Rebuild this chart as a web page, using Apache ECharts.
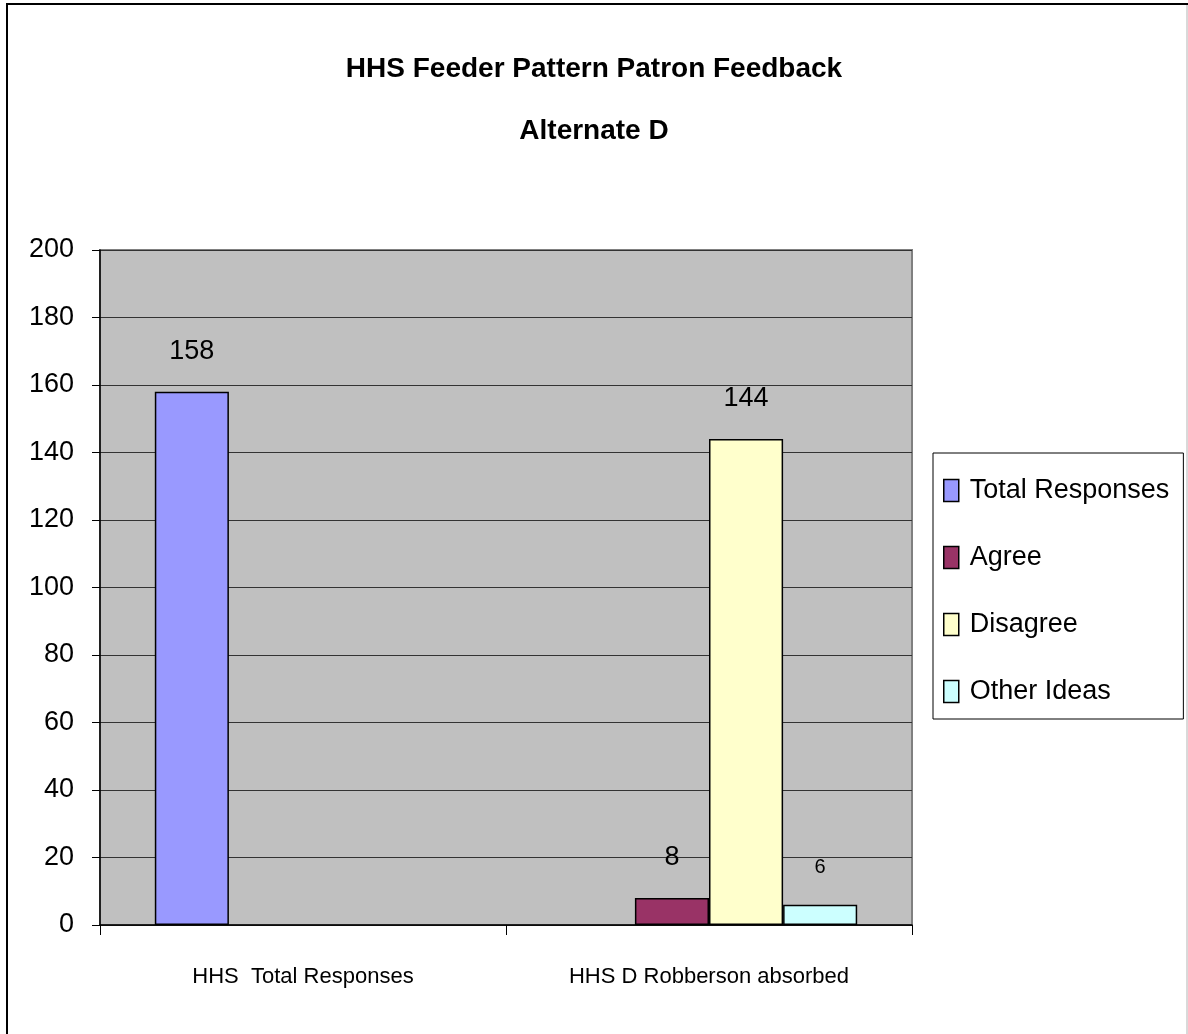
<!DOCTYPE html>
<html>
<head>
<meta charset="utf-8">
<script src="https://cdn.jsdelivr.net/npm/echarts@6/dist/echarts.min.js"></script>
<style>
  html, body { margin: 0; padding: 0; background: #fff; }
  #chart { width: 1188px; height: 1034px; }
</style>
</head>
<body>
<div id="chart"></div>
<script>
  var categories = ['HHS  Total Responses', 'HHS D Robberson absorbed'];
  var seriesNames = ['Total Responses', 'Agree', 'Disagree', 'Other Ideas'];
  var totalResponses = [158, null];
  var agree = [null, 8];
  var disagree = [null, 144];
  var otherIdeas = [null, 6];
  var yTicks = [0, 20, 40, 60, 80, 100, 120, 140, 160, 180, 200];

  var colors = ['#9999ff', '#993366', '#ffffcc', '#ccffff'];
  var font = '"Liberation Sans", Arial, sans-serif';

  var chartDom = document.getElementById('chart');
  var myChart = echarts.init(chartDom, null, {renderer: 'canvas'});

  function barSeries(name, data, color, labelSize) {
    return {
      name: name,
      type: 'bar',
      data: data,
      barGap: '0%',
      barCategoryGap: '27%',
      itemStyle: {
        color: color,
        borderColor: '#000',
        borderWidth: 1.5
      },
      label: {
        show: true,
        position: 'top',
        distance: 27,
        color: '#000',
        fontFamily: font,
        fontSize: labelSize
      }
    };
  }

  var option = {
    backgroundColor: '#fff',
    animation: false,
    title: {
      text: 'HHS Feeder Pattern Patron Feedback\nAlternate D',
      left: 'center',
      top: 33,
      textStyle: {
        fontFamily: font,
        fontWeight: 'bold',
        fontSize: 28,
        lineHeight: 62,
        color: '#000'
      }
    },
    legend: {
      orient: 'vertical',
      left: 933,
      top: 453,
      padding: [24, 14, 14, 10],
      itemWidth: 15,
      itemHeight: 22,
      itemGap: 40,
      borderColor: '#000',
      borderWidth: 1,
      data: seriesNames,
      icon: 'rect',
      itemStyle: {borderColor: '#000', borderWidth: 1.5},
      textStyle: {
        fontFamily: font,
        fontSize: 27,
        color: '#000',
        padding: [0, 0, 0, 6]
      }
    },
    grid: {
      left: 100,
      right: 276,
      top: 250,
      bottom: 109,
      show: true,
      backgroundColor: '#c0c0c0',
      borderColor: '#808080',
      borderWidth: 2
    },
    xAxis: {
      type: 'category',
      data: categories,
      axisLine: {lineStyle: {color: '#000', width: 1.5}},
      axisTick: {show: true, length: 10, lineStyle: {color: '#000'}},
      axisLabel: {
        interval: 0,
        margin: 41,
        color: '#000',
        fontFamily: font,
        fontSize: 22
      }
    },
    yAxis: {
      type: 'value',
      min: yTicks[0],
      max: yTicks[yTicks.length - 1],
      interval: 20,
      axisLine: {show: true, lineStyle: {color: '#000', width: 1.5}},
      axisTick: {show: true, length: 8, lineStyle: {color: '#000'}},
      splitLine: {lineStyle: {color: '#333', width: 1}},
      axisLabel: {
        margin: 26,
        color: '#000',
        fontFamily: font,
        fontSize: 27
      }
    },
    series: [
      barSeries(seriesNames[0], totalResponses, colors[0], 27),
      barSeries(seriesNames[1], agree, colors[1], 27),
      barSeries(seriesNames[2], disagree, colors[2], 27),
      barSeries(seriesNames[3], otherIdeas, colors[3], 20)
    ],
    graphic: [
      {type: 'line', shape: {x1: 7, y1: 4, x2: 7, y2: 1034}, style: {stroke: '#000', lineWidth: 2}},
      {type: 'line', shape: {x1: 6, y1: 4, x2: 1188, y2: 4}, style: {stroke: '#000', lineWidth: 2}},
      {type: 'line', shape: {x1: 1187, y1: 5, x2: 1187, y2: 1034}, style: {stroke: '#ccc', lineWidth: 1.5}}
    ]
  };

  option && myChart.setOption(option);
</script>
</body>
</html>
